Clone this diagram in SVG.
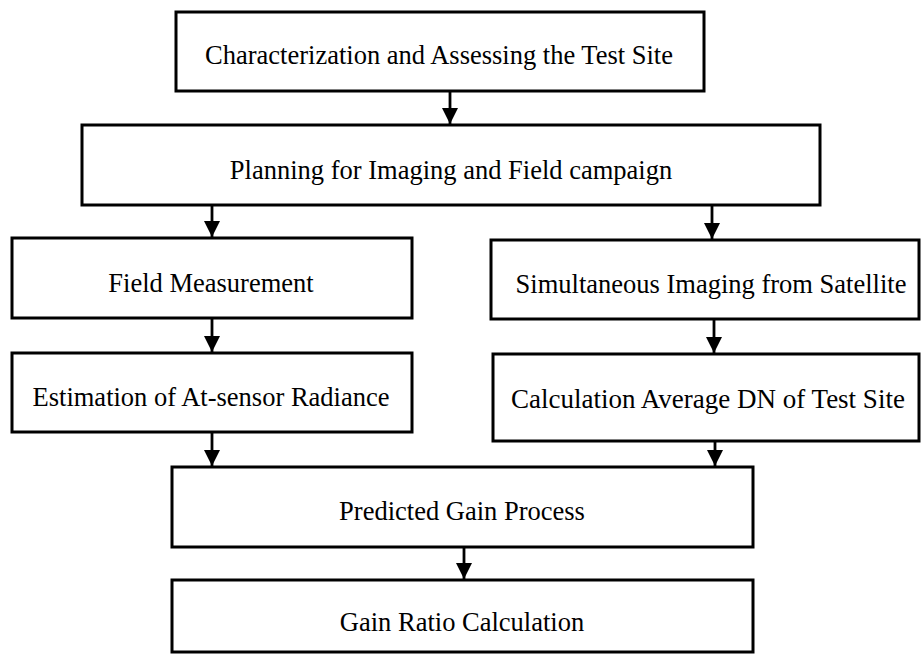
<svg xmlns="http://www.w3.org/2000/svg" width="922" height="654" viewBox="0 0 922 654">
  <style>
    .box { fill: #ffffff; stroke: #000000; stroke-width: 3; }
    .lbl { font-family: "Liberation Serif", "Times New Roman", serif; font-size: 26.5px; fill: #000000; text-anchor: middle; }
    .conn { stroke: #000000; stroke-width: 2.8; fill: none; }
  </style>
  <defs>
    <marker id="ah" markerWidth="16" markerHeight="16" refX="16" refY="8" orient="auto" markerUnits="userSpaceOnUse">
      <path d="M0,0 L16,8 L0,16 Z" fill="#000000"/>
    </marker>
  </defs>
  <rect width="922" height="654" fill="#ffffff"/>

  <g id="n1">
    <rect class="box" x="176" y="12" width="528" height="79"/>
    <text class="lbl" x="439" y="64">Characterization and Assessing the Test Site</text>
  </g>
  <g id="n2">
    <rect class="box" x="82" y="125" width="738" height="80"/>
    <text class="lbl" x="451" y="179">Planning for Imaging and Field campaign</text>
  </g>
  <g id="n3">
    <rect class="box" x="12" y="238" width="400" height="80"/>
    <text class="lbl" x="211" y="292">Field Measurement</text>
  </g>
  <g id="n4">
    <rect class="box" x="491" y="240" width="428" height="79"/>
    <text class="lbl" x="711" y="293">Simultaneous Imaging from Satellite</text>
  </g>
  <g id="n5">
    <rect class="box" x="12" y="353" width="400" height="79"/>
    <text class="lbl" x="211" y="406">Estimation of At-sensor Radiance</text>
  </g>
  <g id="n6">
    <rect class="box" x="493" y="354" width="426" height="87"/>
    <text class="lbl" x="708" y="408" style="font-size:27px">Calculation Average DN of Test Site</text>
  </g>
  <g id="n7">
    <rect class="box" x="172" y="467" width="581" height="80"/>
    <text class="lbl" x="462" y="520">Predicted Gain Process</text>
  </g>
  <g id="n8">
    <rect class="box" x="172" y="580" width="581" height="72"/>
    <text class="lbl" x="462" y="631">Gain Ratio Calculation</text>
  </g>

  <g id="connectors">
    <line class="conn" x1="450" y1="92" x2="450" y2="124" marker-end="url(#ah)"/>
    <line class="conn" x1="212" y1="206" x2="212" y2="237" marker-end="url(#ah)"/>
    <line class="conn" x1="712" y1="206" x2="712" y2="239" marker-end="url(#ah)"/>
    <line class="conn" x1="212" y1="319" x2="212" y2="352" marker-end="url(#ah)"/>
    <line class="conn" x1="714" y1="320" x2="714" y2="353" marker-end="url(#ah)"/>
    <line class="conn" x1="212" y1="433" x2="212" y2="466" marker-end="url(#ah)"/>
    <line class="conn" x1="715" y1="442" x2="715" y2="466" marker-end="url(#ah)"/>
    <line class="conn" x1="464" y1="548" x2="464" y2="579" marker-end="url(#ah)"/>
  </g>
</svg>
